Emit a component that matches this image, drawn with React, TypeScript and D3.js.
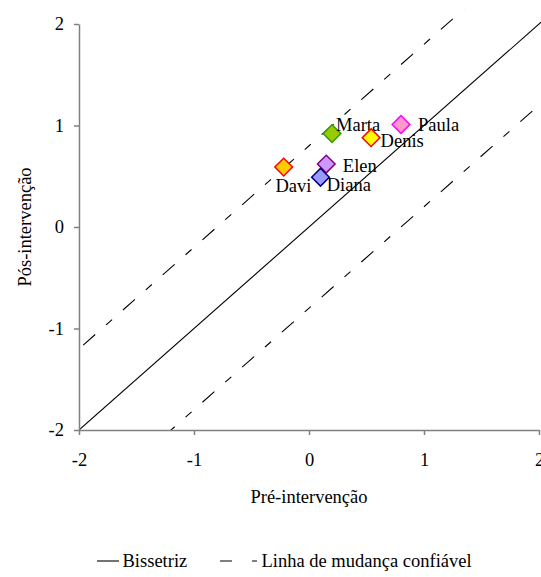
import { useRef, useEffect } from "react";
import * as d3 from "d3";

const names = ["Marta", "Paula", "Denis", "Davi", "Elen", "Diana"];
const preValues = [0.2, 0.8, 0.54, -0.22, 0.15, 0.1];
const posValues = [0.92, 1.01, 0.88, 0.59, 0.62, 0.49];
const fills = ["#99CC00", "#FF99CC", "#FFFF00", "#FFCC00", "#CC99FF", "#9999FF"];
const strokes = ["#339900", "#FF00FF", "#FF0000", "#FF0000", "#800080", "#000080"];
const ticks = [-2, -1, 0, 1, 2];
const tickLabels = ["-2", "-1", "0", "1", "2"];
// bisector offset 0, reliable-change lines at +/- 0.8
const lineOffsets = [0, 0.8, -0.8];

// label placement relative to marker centre (px)
const labelOffsets: Record<string, [number, number]> = {
  Marta: [4, -3],
  Paula: [17, 6.5],
  Denis: [9.5, 9],
  Davi: [-8.3, 24.5],
  Elen: [16.6, 8],
  Diana: [6.2, 14.2],
};

const FONT = '"Liberation Serif", "DejaVu Serif", "Times New Roman", serif';

export default function App() {
  const ref = useRef<SVGSVGElement>(null);

  useEffect(() => {
    if (!ref.current) return;
    const svg = d3.select(ref.current);
    svg.selectAll("*").remove();

    const W = 541,
      H = 577;
    svg
      .attr("width", W)
      .attr("height", H)
      .attr("viewBox", `0 0 ${W} ${H}`)
      .style("font-family", FONT)
      .style("font-size", "18.5px");

    const x = d3.scaleLinear().domain([-2, 2]).range([79, 539]);
    const y = d3.scaleLinear().domain([-2, 2]).range([430, 24]);
    const axisColor = "#808080";
    const fmt = (v: number) => tickLabels[ticks.indexOf(v)];

    // clip for reference lines (plot area extends slightly above the top tick)
    svg
      .append("clipPath")
      .attr("id", "plot")
      .append("rect")
      .attr("x", x(-2))
      .attr("y", y(2.14))
      .attr("width", x(2) - x(-2) + 2)
      .attr("height", y(-2) - y(2.14));

    const lineG = svg.append("g").attr("clip-path", "url(#plot)");
    const line = d3
      .line<[number, number]>()
      .x((d) => x(d[0]))
      .y((d) => y(d[1]));
    lineOffsets.forEach((off) => {
      lineG
        .append("path")
        .attr(
          "d",
          line([
            [-3, -3 + off],
            [3, 3 + off],
          ])
        )
        .attr("fill", "none")
        .attr("stroke", "#000")
        .attr("stroke-width", 1.1)
        .attr("stroke-dasharray", off === 0 ? null : "16,14.5,8,14.5");
    });

    // axes
    const xAxis = svg
      .append("g")
      .attr("transform", `translate(0,${y(-2)})`)
      .call(
        d3.axisBottom(x).tickValues(ticks).tickFormat(fmt as any).tickSize(5).tickPadding(18).tickSizeOuter(0)
      );
    const yAxis = svg
      .append("g")
      .attr("transform", `translate(${x(-2)},0)`)
      .call(
        d3.axisLeft(y).tickValues(ticks).tickFormat(fmt as any).tickSize(5).tickPadding(10).tickSizeOuter(0)
      );
    [xAxis, yAxis].forEach((a) => {
      a.attr("font-family", null).attr("font-size", null);
      a.select(".domain").attr("stroke", axisColor).attr("stroke-width", 1.5);
      a.selectAll(".tick line").attr("stroke", axisColor).attr("stroke-width", 1.5);
      a.selectAll(".tick text").attr("fill", "#000");
    });

    // axis titles
    svg
      .append("text")
      .attr("x", x(0))
      .attr("y", 503)
      .attr("text-anchor", "middle")
      .text("Pré-intervenção");
    svg
      .append("text")
      .attr("transform", `translate(31,${y(0)}) rotate(-90)`)
      .attr("text-anchor", "middle")
      .text("Pós-intervenção");

    // points
    const sym = d3.symbol().type(d3.symbolSquare).size(156);
    const pts = svg
      .append("g")
      .selectAll("g")
      .data(names.map((n, i) => ({ n, i })))
      .join("g");
    pts
      .append("path")
      .attr("d", sym)
      .attr("transform", (d) => `translate(${x(preValues[d.i])},${y(posValues[d.i])}) rotate(45)`)
      .attr("fill", (d) => fills[d.i])
      .attr("stroke", (d) => strokes[d.i])
      .attr("stroke-width", 1.5);
    pts
      .append("text")
      .attr("x", (d) => x(preValues[d.i]) + labelOffsets[d.n][0])
      .attr("y", (d) => y(posValues[d.i]) + labelOffsets[d.n][1])
      .text((d) => d.n);

    // legend
    const lg = svg.append("g");
    const ly = 561;
    lg.append("line").attr("x1", 97).attr("x2", 119).attr("y1", ly).attr("y2", ly).attr("stroke", "#000").attr("stroke-width", 1.1);
    lg.append("text").attr("x", 122.5).attr("y", 567).text("Bissetriz");
    lg.append("line")
      .attr("x1", 220)
      .attr("x2", 257)
      .attr("y1", ly)
      .attr("y2", ly)
      .attr("stroke", "#000")
      .attr("stroke-width", 1.1)
      .attr("stroke-dasharray", "12,20,5,20");
    lg.append("text").attr("x", 261.5).attr("y", 567).text("Linha de mudança confiável");
  }, []);

  return <svg ref={ref} style={{ display: "block", position: "absolute", left: 0, top: 0 }} />;
}
